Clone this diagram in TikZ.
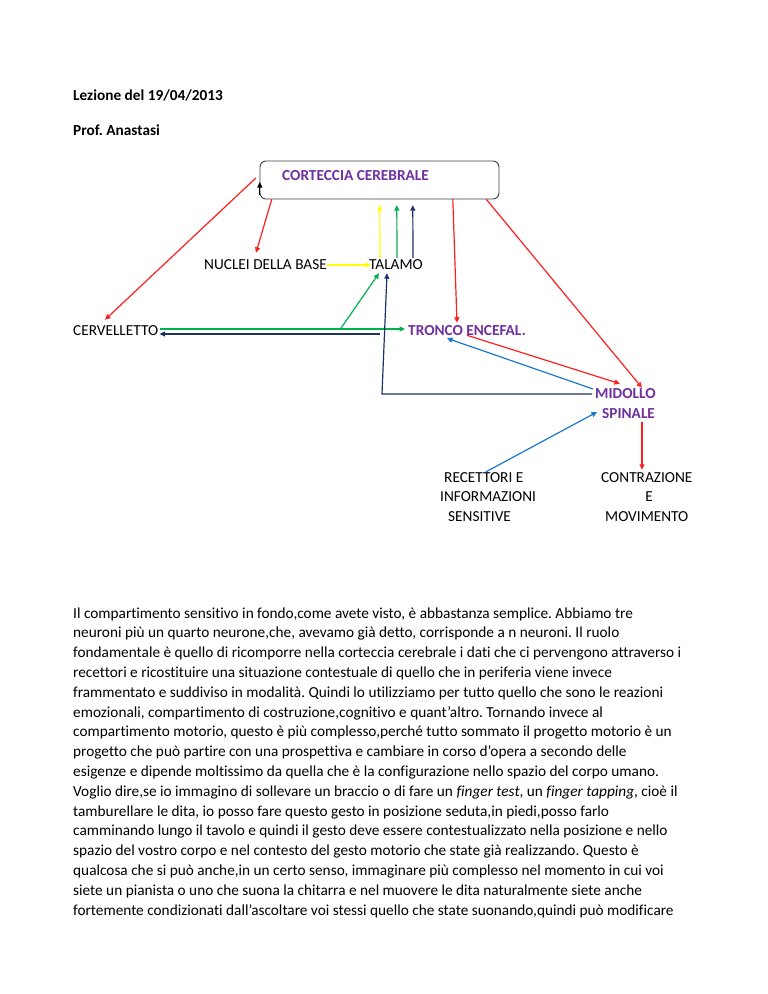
\documentclass[tikz,border=0pt]{standalone}
\usepackage{fontspec}
\setmainfont{Carlito}[Ligatures=NoCommon]
\usetikzlibrary{arrows.meta}
\frenchspacing
\definecolor{cpurple}{HTML}{7030A0}
\definecolor{cred}{HTML}{FF1F1F}
\definecolor{cyellow}{HTML}{FFFF00}
\definecolor{cgreen}{HTML}{00B050}
\definecolor{cnavy}{HTML}{1F3068}
\definecolor{cblue}{HTML}{1A78CC}
\definecolor{cbox}{HTML}{404040}
\tikzset{
  txt/.style={inner sep=0pt, anchor=west, font=\fontsize{15.3}{18}\selectfont},
  ptxt/.style={txt, text=cpurple, font=\fontsize{15.3}{18}\selectfont\bfseries},
  para/.style={inner sep=0pt, anchor=base west, font=\fontsize{15.3}{18}\selectfont},
  arr/.style={line width=1.2pt, -{Triangle[length=5.5pt,width=5pt]}},
}
\begin{document}
\begin{tikzpicture}[x=1pt,y=-1pt]
\useasboundingbox[fill=white] (0,0) rectangle (768,994);

% headings
\node[para, font=\fontsize{15.3}{18}\selectfont\bfseries] (h1) at (73,100) {Lezione del 19/04/2013};
\node[para, font=\fontsize{15.3}{18}\selectfont\bfseries] (h2) at (73,135) {Prof. Anastasi};

% diagram
\draw[cbox, line width=0.9pt, rounded corners=6pt] (260,161) rectangle (499,199);
\node[inner sep=0pt, minimum width=239pt, minimum height=38pt] (box) at (379.5,180) {};
\node[ptxt] (cc) at (282,176) {CORTECCIA CEREBRALE};
\node[txt] (n) at (204,265) {NUCLEI DELLA BASE};
\node[txt] (t) at (369,265) {TALAMO};
\node[txt] (c) at (73,331) {CERVELLETTO};
\node[ptxt] (tr) at (408,331) {TRONCO ENCEFAL.};
\node[ptxt] (m) at (595,394) {MIDOLLO};
\node[ptxt] (s) at (602,414) {SPINALE};
\node[txt] (r1) at (444,478) {RECETTORI E};
\node[txt] (r2) at (440,497) {INFORMAZIONI};
\node[txt] (r3) at (448,517) {SENSITIVE};
\node[txt] (k1) at (601,478) {CONTRAZIONE};
\node[txt, anchor=center] (k2) at (649,497) {E};
\node[txt] (k3) at (605,517) {MOVIMENTO};

% connectors
\draw[arr, black, line width=0.8pt] ([yshift=-15pt]box.west) -- ([yshift=-2pt]box.west);
\draw[arr, cred] ([xshift=-4pt,yshift=2pt]box.west) -- ([xshift=32pt,yshift=6pt]c.north west);
\draw[arr, cred] ([xshift=12pt]box.south west) -- ([xshift=52pt,yshift=7pt]n.north west);
\draw[arr, cyellow] (n.east) -- ([xshift=2pt]t.west);
\draw[arr, cyellow] ([xshift=11pt,yshift=2pt]t.north west) -- ([xshift=120pt,yshift=-6pt]box.south west);
\draw[arr, cgreen] ([xshift=28pt,yshift=2pt]t.north west) -- ([xshift=137pt,yshift=-6pt]box.south west);
\draw[arr, cnavy] ([xshift=44pt,yshift=2pt]t.north west) -- ([xshift=153pt,yshift=-6pt]box.south west);
\draw[arr, cgreen] ([xshift=2pt,yshift=2pt]c.east) -- ([xshift=-3pt,yshift=2pt]tr.west);
\draw[arr, cgreen] ([xshift=182pt,yshift=2pt]c.east) -- ([xshift=10pt,yshift=-3pt]t.south west);
\draw[arr, cnavy] ([xshift=222pt,yshift=-3pt]c.east) -- ([xshift=1pt,yshift=-3pt]c.east);
\draw[arr, cnavy] ([xshift=-3pt]m.west) -- ++(-210pt,0pt) -- ([xshift=18pt,yshift=-3pt]t.south west);
\draw[arr, cred] ([xshift=193pt]box.south west) -- ([xshift=49pt,yshift=3pt]tr.north west);
\draw[arr, cred] ([xshift=-13pt]box.south east) -- ([xshift=47pt,yshift=1pt]m.north west);
\draw[arr, cred] ([xshift=59pt,yshift=1pt]tr.south west) -- ([xshift=25pt,yshift=5pt]m.north west);
\draw[arr, cblue] ([xshift=-2pt,yshift=5pt]m.west) -- ([xshift=39pt,yshift=-2pt]tr.south west);
\draw[arr, cblue] ([xshift=42pt,yshift=1pt]r1.north west) -- ([xshift=-5pt,yshift=2pt]s.west);
\draw[arr, cred] ([xshift=40pt,yshift=-3pt]s.south west) -- ([xshift=41pt,yshift=3pt]k1.north west);

% paragraph
\node[para] (p1) at (73,618) {Il compartimento sensitivo in fondo,come avete visto, è abbastanza semplice. Abbiamo tre};
\node[para] (p2) at (73,637.8) {neuroni più un quarto neurone,che, avevamo già detto, corrisponde a n neuroni. Il ruolo};
\node[para] (p3) at (73,657.6) {fondamentale è quello di ricomporre nella corteccia cerebrale i dati che ci pervengono attraverso i};
\node[para] (p4) at (73,677.4) {recettori e ricostituire una situazione contestuale di quello che in periferia viene invece};
\node[para] (p5) at (73,697.2) {frammentato e suddiviso in modalità. Quindi lo utilizziamo per tutto quello che sono le reazioni};
\node[para] (p6) at (73,717) {emozionali, compartimento di costruzione,cognitivo e quant’altro. Tornando invece al};
\node[para] (p7) at (73,736.8) {compartimento motorio, questo è più complesso,perché tutto sommato il progetto motorio è un};
\node[para] (p8) at (73,756.6) {progetto che può partire con una prospettiva e cambiare in corso d’opera a secondo delle};
\node[para] (p9) at (73,776.4) {esigenze e dipende moltissimo da quella che è la configurazione nello spazio del corpo umano.};
\node[para] (p10) at (73,796.2) {Voglio dire,se io immagino di sollevare un braccio o di fare un \textit{finger test}, un \textit{finger tapping}, cioè il};
\node[para] (p11) at (73,816) {tamburellare le dita, io posso fare questo gesto in posizione seduta,in piedi,posso farlo};
\node[para] (p12) at (73,835.8) {camminando lungo il tavolo e quindi il gesto deve essere contestualizzato nella posizione e nello};
\node[para] (p13) at (73,855.6) {spazio del vostro corpo e nel contesto del gesto motorio che state già realizzando. Questo è};
\node[para] (p14) at (73,875.4) {qualcosa che si può anche,in un certo senso, immaginare più complesso nel momento in cui voi};
\node[para] (p15) at (73,895.2) {siete un pianista o uno che suona la chitarra e nel muovere le dita naturalmente siete anche};
\node[para] (p16) at (73,915) {fortemente condizionati dall’ascoltare voi stessi quello che state suonando,quindi può modificare};
\end{tikzpicture}
\end{document}
